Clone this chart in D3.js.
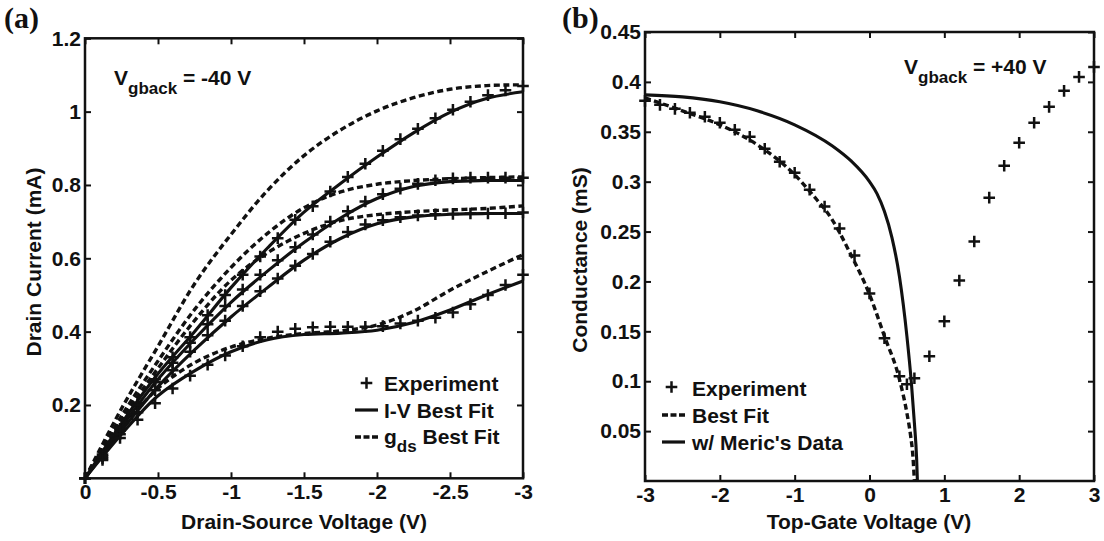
<!DOCTYPE html>
<html><head><meta charset="utf-8">
<script src="https://cdn.jsdelivr.net/npm/d3@7"></script>
<style>
html,body{margin:0;padding:0;background:#fff;}
svg{display:block;font-family:"Liberation Sans",Arial,Helvetica,sans-serif;font-weight:bold;}
</style></head><body>
<svg id="fig" width="1104" height="541"></svg>
<script>
// ---------- Panel (a): drain current vs drain-source voltage, Vgback = -40 V ----------
const vdsExp = [0, -0.12, -0.24, -0.36, -0.48, -0.60, -0.72, -0.84, -0.96, -1.08, -1.20, -1.32, -1.44,
                -1.56, -1.68, -1.80, -1.92, -2.04, -2.16, -2.28, -2.40, -2.52, -2.64, -2.76, -2.88, -3.00];
const idExp1 = [0, 0.065, 0.135, 0.205, 0.270, 0.330, 0.385, 0.445, 0.500, 0.555, 0.605, 0.655, 0.705,
                0.742, 0.782, 0.822, 0.858, 0.893, 0.925, 0.953, 0.982, 1.005, 1.027, 1.045, 1.058, 1.070];
const idExp2 = [0, 0.060, 0.130, 0.200, 0.262, 0.315, 0.370, 0.420, 0.470, 0.515, 0.555, 0.595, 0.630,
                0.665, 0.700, 0.728, 0.755, 0.775, 0.790, 0.803, 0.813, 0.818, 0.820, 0.820, 0.820, 0.820];
const idExp3 = [0, 0.055, 0.120, 0.180, 0.240, 0.295, 0.345, 0.390, 0.430, 0.470, 0.510, 0.545, 0.580,
                0.612, 0.645, 0.672, 0.692, 0.704, 0.712, 0.717, 0.720, 0.721, 0.722, 0.722, 0.723, 0.725];
const idExp4 = [0, 0.050, 0.110, 0.160, 0.205, 0.245, 0.280, 0.310, 0.335, 0.360, 0.385, 0.400, 0.408,
                0.412, 0.413, 0.413, 0.413, 0.415, 0.422, 0.430, 0.438, 0.452, 0.475, 0.500, 0.527, 0.555];

const vdsFit = [0, -0.25, -0.5, -0.75, -1.0, -1.25, -1.5, -1.75, -2.0, -2.25, -2.5, -2.75, -3.0];
const ivFit1 = [0, 0.150, 0.285, 0.400, 0.520, 0.628, 0.726, 0.804, 0.876, 0.942, 0.998, 1.036, 1.054];
const ivFit2 = [0, 0.140, 0.270, 0.380, 0.480, 0.565, 0.643, 0.710, 0.763, 0.796, 0.809, 0.812, 0.812];
const ivFit3 = [0, 0.130, 0.250, 0.350, 0.440, 0.520, 0.595, 0.654, 0.694, 0.713, 0.720, 0.722, 0.722];
const ivFit4 = [0, 0.120, 0.225, 0.293, 0.345, 0.378, 0.392, 0.396, 0.404, 0.425, 0.459, 0.500, 0.538];
const gdsFit1 = [0, 0.190, 0.360, 0.530, 0.665, 0.785, 0.880, 0.950, 1.002, 1.038, 1.061, 1.071, 1.073];
const gdsFit2 = [0, 0.170, 0.320, 0.460, 0.575, 0.668, 0.738, 0.781, 0.802, 0.812, 0.817, 0.820, 0.822];
const gdsFit3 = [0, 0.160, 0.300, 0.430, 0.540, 0.615, 0.668, 0.703, 0.719, 0.727, 0.732, 0.736, 0.743];
const gdsFit4 = [0, 0.135, 0.245, 0.315, 0.358, 0.382, 0.395, 0.402, 0.418, 0.456, 0.513, 0.563, 0.610];

const vdsTicks = [0, -0.5, -1, -1.5, -2, -2.5, -3];
const idTicks = [0.2, 0.4, 0.6, 0.8, 1, 1.2];

// ---------- Panel (b): conductance vs top-gate voltage, Vgback = +40 V ----------
const vtgExp = [-3, -2.8, -2.6, -2.4, -2.2, -2.0, -1.8, -1.6, -1.4, -1.2, -1.0, -0.8, -0.6, -0.4, -0.2,
                0, 0.2, 0.4, 0.5, 0.6, 0.8, 1.0, 1.2, 1.4, 1.6, 1.8, 2.0, 2.2, 2.4, 2.6, 2.8, 3.0];
const gExp = [0.381, 0.377, 0.373, 0.369, 0.365, 0.359, 0.352, 0.345, 0.333, 0.320, 0.309, 0.292, 0.275, 0.253, 0.226,
              0.188, 0.143, 0.105, 0.097, 0.103, 0.125, 0.160, 0.201, 0.240, 0.284, 0.316, 0.339, 0.359, 0.375, 0.391, 0.405, 0.415];

const vtgBest = [-3, -2.5, -2, -1.5, -1, -0.75, -0.5, -0.25, 0, 0.2, 0.4, 0.5, 0.55, 0.58, 0.6];
const gBest = [0.384, 0.371, 0.357, 0.337, 0.307, 0.286, 0.262, 0.227, 0.187, 0.145, 0.102, 0.068, 0.045, 0.025, 0.0];

const vtgMeric = [-3, -2.5, -2, -1.5, -1, -0.5, -0.25, 0, 0.1, 0.2, 0.3, 0.4, 0.5, 0.56, 0.6, 0.63, 0.64];
const gMeric = [0.387, 0.385, 0.380, 0.371, 0.357, 0.336, 0.321, 0.300, 0.288, 0.270, 0.244, 0.205, 0.145, 0.098, 0.058, 0.022, 0.0];

const vtgTicks = [-3, -2, -1, 0, 1, 2, 3];
const gTicks = [0.05, 0.1, 0.15, 0.2, 0.25, 0.3, 0.35, 0.4, 0.45];

// ---------- drawing ----------
const svg = d3.select("#fig");
const ink = "#111";
const FS = 21;

function zip(xs, ys) { return xs.map((v, i) => [v, ys[i]]); }

function crossPath(cx, cy, s) {
  return `M${cx - s},${cy}H${cx + s}M${cx},${cy - s}V${cy + s}`;
}

function styleAxis(sel) {
  sel.attr("font-size", null).attr("font-family", null);
  sel.selectAll("path.domain").remove();
  sel.selectAll(".tick line").attr("stroke", ink).attr("stroke-width", 2);
  sel.selectAll(".tick text").attr("fill", ink).style("font-size", FS + "px");
}

function panel(x, y, xTicks, yTicks) {
  const g = svg.append("g");
  const [x0, x1] = x.range();
  const [y0, y1] = y.range();
  const fmt = d => String(d);
  g.append("g").attr("transform", `translate(0,${y0})`)
    .call(d3.axisBottom(x).tickValues(xTicks).tickSizeInner(-6).tickSizeOuter(0).tickPadding(6).tickFormat(fmt))
    .call(styleAxis);
  g.append("g").attr("transform", `translate(0,${y1})`)
    .call(d3.axisTop(x).tickValues(xTicks).tickSizeInner(-6).tickSizeOuter(0).tickFormat(""))
    .call(styleAxis);
  g.append("g").attr("transform", `translate(${x0},0)`)
    .call(d3.axisLeft(y).tickValues(yTicks).tickSizeInner(-6).tickSizeOuter(0).tickPadding(4).tickFormat(fmt))
    .call(styleAxis);
  g.append("g").attr("transform", `translate(${x1},0)`)
    .call(d3.axisRight(y).tickValues(yTicks).tickSizeInner(-6).tickSizeOuter(0).tickFormat(""))
    .call(styleAxis);
  g.append("rect").attr("x", x0).attr("y", y1).attr("width", x1 - x0).attr("height", y0 - y1)
    .attr("fill", "none").attr("stroke", ink).attr("stroke-width", 2.5);
  return g;
}

function drawLine(g, x, y, pts, dashed, curve) {
  const line = d3.line().x(d => x(d[0])).y(d => y(d[1])).curve(curve);
  g.append("path").attr("d", line(pts)).attr("fill", "none").attr("stroke", ink)
    .attr("stroke-width", dashed ? 3.4 : 3.1).attr("stroke-dasharray", dashed ? "6,3.5" : null)
    .attr("stroke-linejoin", "round");
}

function drawCrosses(g, x, y, pts) {
  g.append("path").attr("d", pts.map(d => crossPath(x(d[0]), y(d[1]), 5.8)).join(""))
    .attr("fill", "none").attr("stroke", ink).attr("stroke-width", 2.5);
}

// Panel (a)
const ax = d3.scaleLinear().domain([0, -3]).range([85, 523]);
const ay = d3.scaleLinear().domain([0, 1.2]).range([478.3, 38.3]);
const gA = panel(ax, ay, vdsTicks, idTicks);
const smooth = d3.curveCatmullRom.alpha(0.5);
[gdsFit1, gdsFit2, gdsFit3, gdsFit4].forEach(s => drawLine(gA, ax, ay, zip(vdsFit, s), true, smooth));
[ivFit1, ivFit2, ivFit3, ivFit4].forEach(s => drawLine(gA, ax, ay, zip(vdsFit, s), false, smooth));
[idExp1, idExp2, idExp3, idExp4].forEach(s => drawCrosses(gA, ax, ay, zip(vdsExp, s)));

// Panel (b)
const bx = d3.scaleLinear().domain([-3, 3]).range([645, 1094]);
const by = d3.scaleLinear().domain([0, 0.45]).range([481, 32]);
const gB = panel(bx, by, vtgTicks, gTicks);
drawLine(gB, bx, by, zip(vtgBest, gBest), true, d3.curveMonotoneX);
drawLine(gB, bx, by, zip(vtgMeric, gMeric), false, d3.curveMonotoneX);
drawCrosses(gB, bx, by, zip(vtgExp, gExp));

// ---------- text ----------
function text(x, y, str, opts = {}) {
  return svg.append("text").attr("x", x).attr("y", y).attr("fill", ink)
    .style("font-size", (opts.size || FS) + "px")
    .attr("text-anchor", opts.anchor || "start")
    .attr("transform", opts.rotate ? `rotate(-90,${x},${y})` : null)
    .text(str);
}

// axis titles
text(304, 529, "Drain-Source Voltage (V)", { anchor: "middle" });
text(869, 529, "Top-Gate Voltage (V)", { anchor: "middle" });
text(41, 262, "Drain Current (mA)", { anchor: "middle", rotate: true });
text(587, 260, "Conductance (mS)", { anchor: "middle", rotate: true });

// panel letters
svg.append("text").attr("x", 4).attr("y", 28).attr("fill", ink)
  .style("font-family", "'Liberation Serif','Times New Roman',serif").style("font-size", "30px").text("(a)");
svg.append("text").attr("x", 562).attr("y", 28).attr("fill", ink)
  .style("font-family", "'Liberation Serif','Times New Roman',serif").style("font-size", "30px").text("(b)");

// back-gate annotations with subscript
function gateNote(x, y, rest) {
  const t = svg.append("text").attr("x", x).attr("y", y).attr("fill", ink).style("font-size", FS + "px");
  t.append("tspan").text("V");
  t.append("tspan").attr("dy", 9).style("font-size", "17px").text("gback");
  t.append("tspan").attr("dy", -9).text(" " + rest);
}
gateNote(114, 85, "= -40 V");
gateNote(904, 74, "= +40 V");

// legend (a)
drawCrosses(svg, d => d, d => d, [[366.5, 383]]);
text(384, 391, "Experiment");
svg.append("path").attr("d", "M355,410H378").attr("stroke", ink).attr("stroke-width", 3.2);
text(384, 418, "I-V Best Fit");
svg.append("path").attr("d", "M355,437H378").attr("stroke", ink).attr("stroke-width", 3.4).attr("stroke-dasharray", "6,2.5");
{
  const t = svg.append("text").attr("x", 384).attr("y", 444).attr("fill", ink).style("font-size", FS + "px");
  t.append("tspan").text("g");
  t.append("tspan").attr("dy", 8).style("font-size", "17px").text("ds");
  t.append("tspan").attr("dy", -8).text(" Best Fit");
}

// legend (b)
drawCrosses(svg, d => d, d => d, [[671.5, 387]]);
text(692, 396, "Experiment");
svg.append("path").attr("d", "M662,415H685").attr("stroke", ink).attr("stroke-width", 3.4).attr("stroke-dasharray", "6,2.5");
text(692, 423, "Best Fit");
svg.append("path").attr("d", "M662,442H685").attr("stroke", ink).attr("stroke-width", 3.2);
text(692, 450, "w/ Meric's Data");
</script></body></html>
